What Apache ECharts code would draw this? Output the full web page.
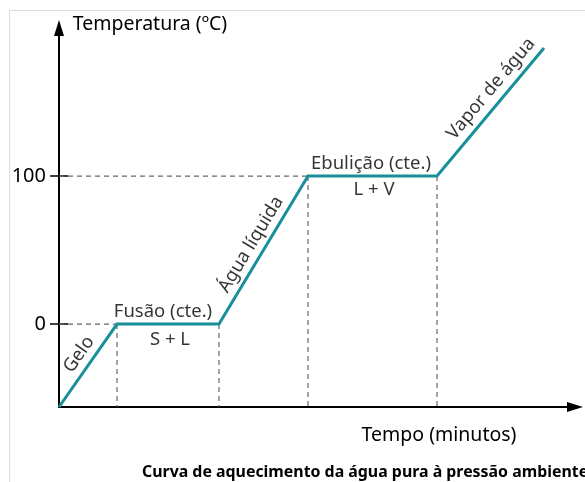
<!DOCTYPE html>
<html><head><meta charset="utf-8">
<script src="https://cdn.jsdelivr.net/npm/echarts@6/dist/echarts.min.js"></script>
<style>html,body{margin:0;padding:0;background:#fff}#c{width:585px;height:482px}</style>
</head><body><div id="c"></div>
<script>
// Data
const times = [0, 5.8, 16, 24.9, 37.8, 48.5];
const temps = [-56, 0, 0, 100, 100, 186.5];
const yTickValues = [0, 100];
const yMin = -56, yMax = 200, xMin = 0, xMax = 51.6;
const phaseTexts = ['Gelo', 'Fusão (cte.)', 'S + L', 'Água líquida', 'Ebulição (cte.)', 'L + V', 'Vapor de água'];
const phaseAnchors = [[2.0, -20.5], [10.4, 8.6], [11.1, -10.8], [19.2, 53.8], [31.2, 108.6], [31.5, 90.5], [43.2, 159]];
const phaseAngles = [55, 0, 0, 59, 0, 0, 50];
const yAxisTitle = 'Temperatura (ºC)';
const xAxisTitle = 'Tempo (minutos)';
const caption = 'Curva de aquecimento da água pura à pressão ambiente';

const FONT = 'Noto Sans';
const lineData = times.map((t, i) => [t, temps[i]]);
// dashed guides for the plateau corners (indices 1..4)
const dashed = [];
[1, 2, 3, 4].forEach(i => {
  dashed.push({ type: 'line', data: [[times[i], temps[i]], [times[i], yMin]], symbol: 'none', silent: true,
    lineStyle: { color: '#666', width: 1.2, type: [5, 4] }, z: 1 });
});
[1, 3].forEach(i => {
  dashed.push({ type: 'line', data: [[xMin, temps[i]], [times[i], temps[i]]], symbol: 'none', silent: true,
    lineStyle: { color: '#666', width: 1.2, type: [5, 4] }, z: 1 });
});

const chart = echarts.init(document.getElementById('c'));
chart.setOption({
  animation: false,
  grid: { left: 59, right: 10, top: 28, bottom: 75 },
  xAxis: {
    type: 'value', min: xMin, max: xMax,
    axisLine: { onZero: false, lineStyle: { color: '#000', width: 2 }, symbol: ['none', 'triangle'], symbolSize: [10, 16] },
    axisTick: { show: false }, axisLabel: { show: false }, splitLine: { show: false }
  },
  yAxis: [{
    type: 'value', min: yMin, max: yMax,
    axisLine: { onZero: false, lineStyle: { color: '#000', width: 2 }, symbol: ['none', 'triangle'], symbolSize: [10, 16] },
    axisTick: { show: true, length: 9, lineStyle: { color: '#000', width: 1.5 }, customValues: yTickValues },
    axisLabel: { show: true, margin: 13, color: '#000', fontSize: 20, fontFamily: FONT, customValues: yTickValues },
    splitLine: { show: false }
  }, {
    type: 'value', min: yMin, max: yMax, position: 'left',
    axisLine: { show: false },
    axisTick: { show: true, inside: true, length: 9, lineStyle: { color: '#000', width: 1.5 }, customValues: yTickValues },
    axisLabel: { show: false }, splitLine: { show: false }
  }],
  series: [
    ...dashed,
    { type: 'line', data: lineData, symbol: 'none', lineStyle: { color: '#17909a', width: 3, join: 'miter' }, z: 3 },
    { type: 'scatter', symbolSize: 0, silent: true, z: 4,
      data: phaseTexts.map((t, i) => ({ value: phaseAnchors[i],
        label: { show: true, position: 'inside', formatter: t, rotate: phaseAngles[i], color: '#000', fontSize: 18.5, fontFamily: FONT } })) }
  ],
  graphic: [
    { type: 'line', shape: { x1: 9, y1: 10.5, x2: 585, y2: 10.5 }, style: { stroke: '#dddddd', lineWidth: 1 }, silent: true },
    { type: 'line', shape: { x1: 9.5, y1: 10, x2: 9.5, y2: 482 }, style: { stroke: '#dddddd', lineWidth: 1 }, silent: true },
    { type: 'text', x: 150, y: 24, style: { text: yAxisTitle, fontSize: 19.5, fontFamily: FONT, fill: '#000', align: 'center', verticalAlign: 'middle' } },
    { type: 'text', x: 439, y: 435, style: { text: xAxisTitle, fontSize: 19.5, fontFamily: FONT, fill: '#000', align: 'center', verticalAlign: 'middle' } },
    { type: 'text', x: 142, y: 472, style: { text: caption, fontSize: 15.9, fontWeight: 'bold', fontFamily: FONT, fill: '#000', align: 'left', verticalAlign: 'middle' } }
  ]
});
</script></body></html>
